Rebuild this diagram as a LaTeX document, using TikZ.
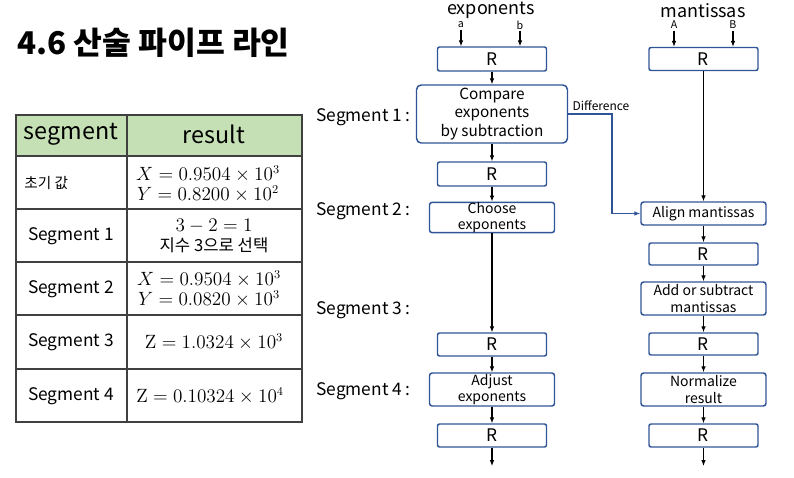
\documentclass[tikz,border=0pt]{standalone}
\usepackage[no-math]{fontspec}
\setmainfont{Noto Sans CJK KR}
\usetikzlibrary{arrows.meta,positioning}

\definecolor{boxblue}{RGB}{47,85,151}
\definecolor{headgreen}{RGB}{197,224,180}
\definecolor{tabgray}{RGB}{64,64,64}

\begin{document}
\begin{tikzpicture}[x = 0.75pt, y = -0.75pt,
  reg/.style = {draw = boxblue, line width = 1.1pt, rounded corners = 1.5pt, inner sep = 0pt, minimum width = 81.75pt, minimum height = 17.25pt, font = \fontsize{13}{15}\selectfont},
  op/.style = {draw = boxblue, line width = 1.1pt, rounded corners = 2pt, inner sep = 0pt, align = center, minimum width = 93.75pt, minimum height = 24.75pt, font = \fontsize{10.5}{12.5}\selectfont},
  flow/.style = {-{Latex[length = 4.5pt, width = 3.5pt]}, line width = 0.8pt},
  seg/.style = {anchor = east, inner sep = 0pt, font = \fontsize{13}{15}\selectfont},
  inlabel/.style = {inner sep = 1pt, font = \fontsize{8}{9}\selectfont},
  cell/.style = {align = center, font = \fontsize{13}{15}\selectfont},
  mcell/.style = {align = center, inner sep = 0pt, font = \fontsize{13.5}{15}\selectfont}]
\useasboundingbox (0,0) rectangle (794,478);

% title
\node[anchor = west, inner sep = 0pt, font = \bfseries\fontsize{23.5}{27}\selectfont] (title) at (17, 43) {4.6 산술 파이프 라인};

% table
\fill[headgreen] (16,115) rectangle (302,156);
\draw[tabgray, line width = 0.8pt] (16,115) rectangle (302,422);
\foreach \y in {156,209,262,315,369}
  \draw[tabgray, line width = 0.8pt] (16,\y) -- (302,\y);
\draw[tabgray, line width = 0.8pt] (127,115) -- (127,422);

\node[font = \fontsize{17.5}{20}\selectfont] (hseg) at (71, 134) {segment};
\node[font = \fontsize{17.5}{20}\selectfont] (hres) at (214, 134) {result};
\node[anchor = west, inner sep = 0pt, font = \fontsize{11}{13}\selectfont] (s0) at (24, 183) {초기 값};
\node[mcell] (v0) at (208, 184) {$X = 0.9504 \times 10^3$\\$Y = 0.8200 \times 10^2$};
\node[cell] (s1) at (71, 236) {Segment 1};
\node[mcell, font = \fontsize{12.5}{15}\selectfont] (v1) at (214, 236) {\fontsize{13.5}{15}\selectfont$3 - 2 = 1$\\지수 3으로 선택};
\node[cell] (s2) at (71, 289) {Segment 2};
\node[mcell] (v2) at (209, 289) {$X = 0.9504 \times 10^3$\\$Y = 0.0820 \times 10^3$};
\node[cell] (s3) at (71, 342) {Segment 3};
\node[mcell] (v3) at (214, 342) {$\mathrm{Z} = 1.0324 \times 10^3$};
\node[cell] (s4) at (71, 396) {Segment 4};
\node[mcell] (v4) at (210, 396) {$\mathrm{Z} = 0.10324 \times 10^4$};

% segment labels
\node[seg] (seg1) at (411, 117) {Segment 1 :};
\node[seg] (seg2) at (411, 211) {Segment 2 :};
\node[seg] (seg3) at (411, 310) {Segment 3 :};
\node[seg] (seg4) at (411, 391) {Segment 4 :};

% exponent pipe
\node[font = \fontsize{13.5}{15}\selectfont] (expo) at (491, 10.5) {exponents};
\node[inlabel] (ina) at (461, 25) {a};
\node[inlabel] (inb) at (520, 25) {b};
\node[reg, minimum height = 18pt] (ra1) at (492, 59) {R};
\node[op, rounded corners = 3.5pt, minimum width = 113.25pt, minimum height = 43.5pt, font = \fontsize{11.5}{13.9}\selectfont] (cmp) at (492, 114) {Compare\\exponents\\by subtraction};
\node[reg, minimum height = 18pt] (ra2) at (492, 174) {R};
\node[op, minimum height = 21.75pt, font = \fontsize{10.5}{12}\selectfont] (chs) at (492, 217.5) {Choose\\exponents};
\node[reg] (ra3) at (492, 344.5) {R};
\node[op] (adj) at (492, 389.5) {Adjust\\exponents};
\node[reg] (ra4) at (492, 435.5) {R};
\coordinate (outa) at (492, 466);

% mantissa pipe
\node[font = \fontsize{13.5}{15}\selectfont] (mant) at (703, 10.5) {mantissas};
\node[inlabel] (inA) at (674, 25) {A};
\node[inlabel] (inB) at (733, 25) {B};
\node[reg] (rb1) at (703.5, 59) {R};
\node[op, minimum height = 17.25pt] (aln) at (703.5, 213.5) {Align mantissas};
\node[reg, minimum height = 16.5pt] (rb2) at (703.5, 254) {R};
\node[op] (add) at (703.5, 298.5) {Add or subtract\\mantissas};
\node[reg, minimum height = 16.5pt] (rb3) at (703.5, 344) {R};
\node[op] (nrm) at (703.5, 389.5) {Normalize\\result};
\node[reg] (rb4) at (703.5, 435.5) {R};
\coordinate (outb) at (703.5, 466);

% connectors
\draw[flow] (ina) -- (ina |- ra1.north);
\draw[flow] (inb) -- (inb |- ra1.north);
\draw[flow] (inA) -- (inA |- rb1.north);
\draw[flow] (inB) -- (inB |- rb1.north);
\draw[flow] (ra1) -- (cmp);
\draw[flow] (cmp) -- (ra2);
\draw[flow] (ra2) -- (chs);
\draw[flow] (chs) -- (ra3);
\draw[flow] (ra3) -- (adj);
\draw[flow] (adj) -- (ra4);
\draw[flow] (ra4) -- (outa);
\draw[flow] (rb1) -- (aln);
\draw[flow] (aln) -- (rb2);
\draw[flow] (rb2) -- (add);
\draw[flow] (add) -- (rb3);
\draw[flow] (rb3) -- (nrm);
\draw[flow] (nrm) -- (rb4);
\draw[flow] (rb4) -- (outb);

% difference
\coordinate (bend) at (612, 114);
\draw[boxblue, line width = 0.8pt, -{Latex[length = 4.5pt, width = 3.5pt]}] (cmp.east) -- (bend) |- (aln.west);
\node[font = \fontsize{9}{10}\selectfont] (dif) at (601, 106) {Difference};
\end{tikzpicture}
\end{document}
